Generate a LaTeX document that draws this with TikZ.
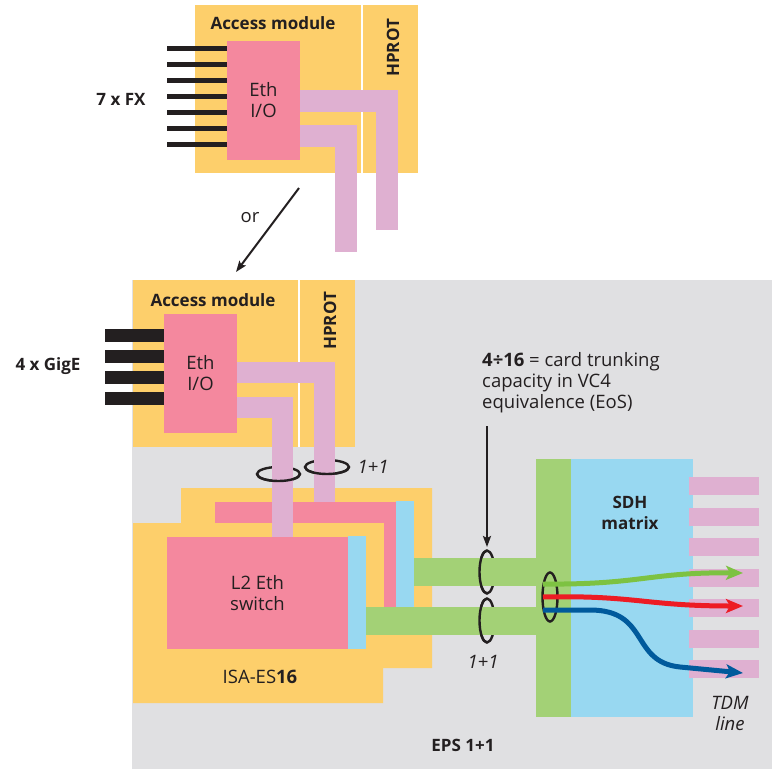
\documentclass[tikz,border=0pt]{standalone}
\usepackage{fontspec}
\setmainfont{Open Sans}
\usepackage{xcolor}
\usetikzlibrary{arrows.meta,positioning}
\definecolor{modyellow}{HTML}{FDCF6B}
\definecolor{ethpink}{HTML}{F4889E}
\definecolor{busmauve}{HTML}{DFB0D1}
\definecolor{sdhblue}{HTML}{98D8F1}
\definecolor{trunkgreen}{HTML}{A3D176}
\definecolor{shelfgray}{HTML}{E0E0E2}
\definecolor{ink}{HTML}{231F20}
\definecolor{flowgreen}{HTML}{7DC242}
\definecolor{flowred}{HTML}{ED1C24}
\definecolor{flowblue}{HTML}{005A9C}

\begin{document}
\begin{tikzpicture}[x=1pt,y=-1pt,
  every node/.style={font=\fontsize{18.5}{21}\selectfont,text=ink,inner sep=0pt},
  iobox/.style={fill=ethpink,align=center},
  bus/.style={draw=busmauve,line width=#1},
  fxline/.style={draw=ink,line width=5pt},
  gigeline/.style={draw=ink,line width=13pt},
  trunkbar/.style={draw=trunkgreen,line width=28pt},
  ring/.style={draw=ink,line width=2.4pt},
  flow/.style={line width=5pt,-{Stealth[length=17pt,width=14pt,inset=4pt]}},
  pointer/.style={draw=ink,line width=2pt,-{Stealth[length=11pt,width=8pt,inset=2pt]}},
  divider/.style={draw=white,line width=1.5pt},
  hd/.style={font=\fontsize{17}{21}\selectfont\bfseries},
  note/.style={font=\fontsize{18.5}{21}\selectfont\itshape}
]
\useasboundingbox (0,0) rectangle (772,769);
\fill[shelfgray] (132,280) rectangle (772,769);

% upper access module (7 x FX)
\node[fill=modyellow,minimum width=223pt,minimum height=168pt] (acctop) at (306.5,89) {};
\draw[divider] (362,5) -- (362,173);
\node[hd] (acctoplbl) at (273,23) {Access module};
\node[hd,rotate=90] (hprottop) at (393,48) {HPROT};
\node[iobox,minimum width=73pt,minimum height=119pt] (ethtop) at (263.5,100.5) {Eth\\I/O};
\foreach \y in {48,64,...,144}
  \draw[fxline] (167,\y) -- (ethtop.west |- 0,\y);
\draw[bus=22pt] (ethtop.east |- 0,101) -| (386.5,230);
\draw[bus=22pt] (ethtop.east |- 0,136) -| (345.5,252);
\node[hd] (fx) at (121,99) {7 x FX};

% or
\node (orlbl) at (250,218) {or};
\coordinate (ortail) at (299,188);
\coordinate (orhead) at (236,272);
\draw[pointer] (ortail) -- (orhead);

% lower access module (4 x GigE)
\node[fill=modyellow,minimum width=222pt,minimum height=167pt] (accbot) at (244,363.5) {};
\draw[divider] (299,280) -- (299,447);
\node[hd] (accbotlbl) at (213,300) {Access module};
\node[hd,rotate=90] (hprotbot) at (330,321) {HPROT};
\node[iobox,minimum width=73pt,minimum height=119pt] (ethbot) at (200.5,373.5) {Eth\\I/O};
\foreach \y in {335.5,356.5,377,398}
  \draw[gigeline] (105,\y) -- (ethbot.west |- 0,\y);
\node[hd] (gige) at (48,366) {4 x GigE};

% ISA-ES16 card
\fill[modyellow] (181,488) -- (432,488) -- (432,668) -- (383,668) -- (383,703)
  -- (133,703) -- (133,523) -- (181,523) -- cycle;
\fill[ethpink] (215,502) rectangle (396,523);
\fill[ethpink] (384,502) rectangle (396,607);
\node[fill=sdhblue,minimum width=18pt,minimum height=106pt] (backport) at (405,554) {};

% 1+1 on the access side
\draw[ring] (278.5,474) ellipse [x radius=21.5pt,y radius=7pt];
\draw[ring] (327,467) ellipse [x radius=22pt,y radius=7pt];
\draw[bus=21pt] (ethbot.east |- 0,372.5) -| (324,502);
\draw[bus=21pt] (ethbot.east |- 0,407.5) -| (282.5,537);
\draw[ring] (257,474) arc[start angle=180,end angle=360,x radius=21.5pt,y radius=7pt];
\draw[ring] (305,467) arc[start angle=180,end angle=360,x radius=22pt,y radius=7pt];
\node[note] (pairtop) at (373,467) {1+1};

\node[iobox,minimum width=181pt,minimum height=112pt] (l2sw) at (257.5,593) {L2 Eth\\switch};
\node[fill=sdhblue,minimum width=18pt,minimum height=113pt] (frontport) at (357,592.5) {};
\node (isa) at (260,677) {ISA-ES\textbf{16}};

% SDH side
\node[fill=trunkgreen,minimum width=35pt,minimum height=258pt] (trunk) at (553.5,588) {};
\node[fill=sdhblue,minimum width=122pt,minimum height=258pt] (sdh) at (632,588) {};
\node[hd,align=center] (sdhlbl) at (630,513) {SDH\\matrix};
\foreach \i/\y in {1/486,2/517,3/547,4/578,5/608,6/639,7/669}
  \node[fill=busmauve,minimum width=70pt,minimum height=18pt] (tdm\i) at (724,\y) {};

\draw[ring] (487,572) ellipse [x radius=7.5pt,y radius=21.5pt];
\draw[ring] (487,620.5) ellipse [x radius=7.5pt,y radius=22pt];
\draw[trunkbar] (backport.east |- 0,572) -- (trunk.west |- 0,572);
\draw[trunkbar] (frontport.east |- 0,621) -- (trunk.west |- 0,621);
\draw[ring] (487,550.5) arc[start angle=90,end angle=270,x radius=7.5pt,y radius=21.5pt];
\draw[ring] (487,598.5) arc[start angle=90,end angle=270,x radius=7.5pt,y radius=22pt];
\node[note] (pairbot) at (483,662) {1+1};

\draw[ring] (550,597) ellipse [x radius=7.5pt,y radius=24.5pt];
\coordinate (eps) at (543,597);
\draw[flow,flowgreen] ([yshift=13pt]eps) .. controls (640,585) and (650,572) .. ([xshift=19pt,yshift=5pt]tdm4.center);
\draw[flow,flowred] (eps) .. controls (635,595) and (645,606) .. ([xshift=19pt,yshift=2pt]tdm5.center);
\draw[flow,flowblue] ([yshift=-13pt]eps) -- (590,610) .. controls (650,610) and (630,662) .. (680,667) -- ([xshift=19pt,yshift=-4pt]tdm7.center);

\node[anchor=west,align=left] (capnote) at (482,383) {\textbf{4÷16} = card trunking\\capacity in VC4\\equivalence (EoS)};
\coordinate (notetail) at (487,426);
\coordinate (ringtop) at (487,547);
\draw[pointer] (notetail) -- (ringtop);

\node[note,align=center] (tdmlbl) at (730,713) {TDM\\line};
\node[hd] (eps11) at (463,745) {EPS 1+1};
\end{tikzpicture}
\end{document}
